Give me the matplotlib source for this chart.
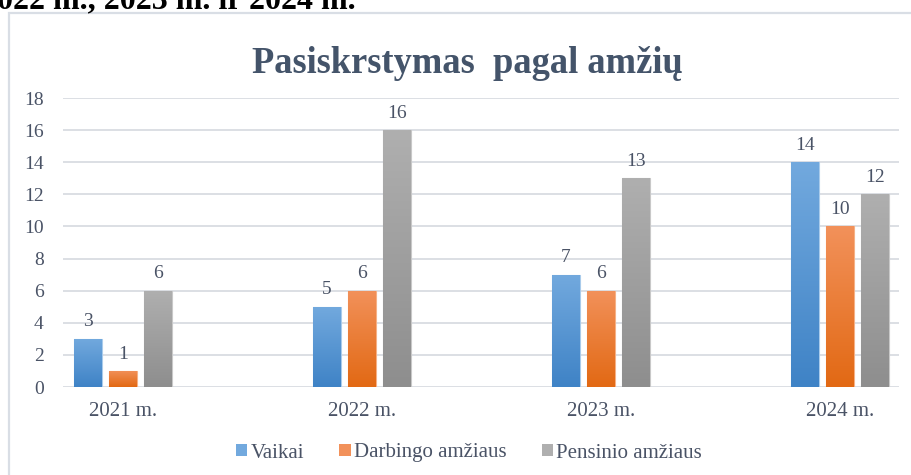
import numpy as np
import matplotlib
matplotlib.use("Agg")
import matplotlib.pyplot as plt
from matplotlib.colors import LinearSegmentedColormap
from matplotlib.patches import Rectangle

# data
years = ["2021 m.", "2022 m.", "2023 m.", "2024 m."]
series_names = ["Vaikai", "Darbingo amžiaus", "Pensinio amžiaus"]
vaikai = [3, 5, 7, 14]
darbingo = [1, 6, 6, 10]
pensinio = [6, 16, 13, 12]
y_ticks = [0, 2, 4, 6, 8, 10, 12, 14, 16, 18]

title = "Pasiskrstymas  pagal amžių"
top_text = "022 m., 2023 m. ir 2024 m."

# gradient colours (top, bottom) per series
grads = [("#72a9de", "#3f83c6"), ("#f2915a", "#e26914"), ("#afafaf", "#8e8e8e")]
edges = ["#a9cbeb", "#f5b186", "#c8c8c8"]
text_col = "#4a5366"

plt.rcParams['font.family'] = ['Liberation Serif', 'DejaVu Serif']

W, H = 912, 475
fig = plt.figure(figsize=(W / 100, H / 100), dpi=100)

# chart frame (clipped by figure edges right/bottom)
fig.patches.append(Rectangle((9 / W, -0.1), 1.0, 1 - 13 / H + 0.1,
                             transform=fig.transFigure, fill=False,
                             edgecolor="#d9dee5", linewidth=1.6))

# cut-off heading of the document above the chart
fig.text(-3 / W, 1 - 8 / H, top_text, fontsize=23, fontweight="bold",
         color="black", ha="left", va="baseline")

ax = fig.add_axes([63 / W, 1 - 387 / H, (899 - 63) / W, (387 - 98) / H])

x = np.arange(len(years))
bw = 0.117
offs = [-0.146, 0.0, 0.146]
all_vals = [vaikai, darbingo, pensinio]

handles = []
for vals, off, (ctop, cbot), ec, name in zip(all_vals, offs, grads, edges, series_names):
    bars = ax.bar(x + off, vals, bw, color=cbot, edgecolor=ec, linewidth=0.8,
                  zorder=3, label=name)
    cmap = LinearSegmentedColormap.from_list("g", [cbot, ctop])
    for b in bars:
        x0, w, h = b.get_x(), b.get_width(), b.get_height()
        grad = np.linspace(0, 1, 100).reshape(-1, 1)
        im = ax.imshow(grad, extent=[x0, x0 + w, 0, h], origin="lower",
                       aspect="auto", cmap=cmap, zorder=3.5)
        im.set_clip_path(b)
        ax.annotate(str(int(h)), (x0 + w / 2, h), xytext=(0, 6),
                    textcoords="offset points", ha="center", va="bottom",
                    fontsize=14, color=text_col, zorder=5)
    handles.append(Rectangle((0, 0), 1, 1, facecolor=ctop))

ax.set_xlim(-0.251, 3.247)
ax.set_ylim(0, 18)
ax.set_yticks(y_ticks)
ax.set_xticks(x)
ax.set_xticklabels(years)
ax.tick_params(axis="y", length=0, pad=14, labelsize=14, labelcolor=text_col)
ax.tick_params(axis="x", length=0, pad=11, labelsize=15, labelcolor=text_col)
ax.grid(axis="y", color="#dcdfe4", linewidth=1.4, zorder=0)
ax.set_axisbelow(True)
for s in ax.spines.values():
    s.set_visible(False)

fig.text(467 / W, 1 - 73 / H, title, fontsize=26.3, fontweight="bold",
         color="#44546a", ha="center", va="baseline")

fig.legend(handles, series_names, loc="center", bbox_to_anchor=(469 / W, 1 - 453 / H),
           ncol=3, frameon=False, fontsize=15, labelcolor=text_col,
           handlelength=0.55, handleheight=0.55, handletextpad=0.15,
           columnspacing=1.7)

fig.savefig("out.png", dpi=100)
